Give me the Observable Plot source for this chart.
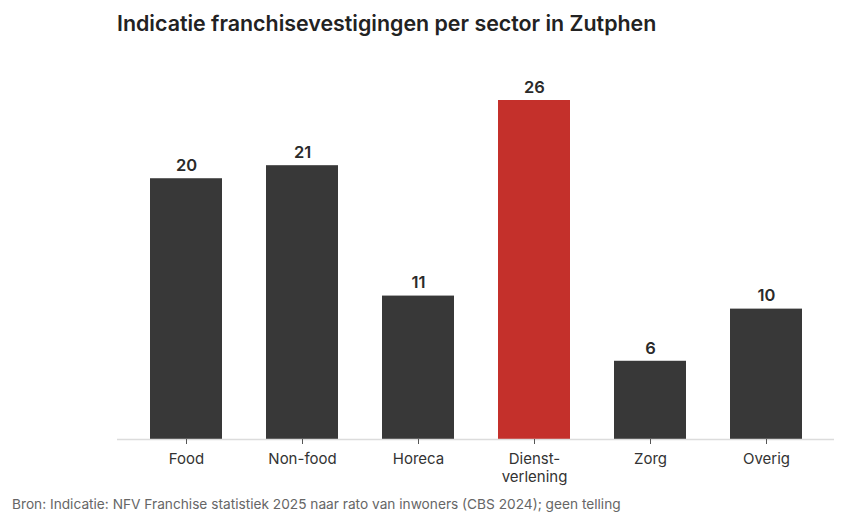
<!DOCTYPE html>
<html>
<head>
<meta charset="utf-8">
<script src="https://cdn.jsdelivr.net/npm/d3@7"></script>
<script src="https://cdn.jsdelivr.net/npm/@observablehq/plot@0.6"></script>
<style>
  body { margin: 0; background: #fff; font-family: Inter, "Noto Sans", sans-serif; }
  #title { height: 46px; line-height: 46px; padding-left: 117px; font-size: 21.4px; font-weight: 600; color: #222; }
  #caption { padding: 10px 0 0 12px; font-size: 13.7px; color: #666; }
</style>
</head>
<body>
<div id="title">Indicatie franchisevestigingen per sector in Zutphen</div>
<div id="chart"></div>
<div id="caption">Bron: Indicatie: NFV Franchise statistiek 2025 naar rato van inwoners (CBS 2024); geen telling</div>
<script>
// Sectoren en geschatte aantallen vestigingen
const sectors = ["Food", "Non-food", "Horeca", "Dienstverlening", "Zorg", "Overig"];
const tickLabels = ["Food", "Non-food", "Horeca", "Dienst-\nverlening", "Zorg", "Overig"];
const counts = [20, 21, 11, 26, 6, 10];
const highlight = "Dienstverlening";

const data = sectors.map((s, i) => ({sector: s, count: counts[i]}));
const labelOf = new Map(sectors.map((s, i) => [s, tickLabels[i]]));

const chart = Plot.plot({
  width: 844,
  height: 440,
  marginLeft: 117,
  marginRight: 10,
  marginTop: 54,
  marginBottom: 47,
  style: {fontFamily: "Inter, 'Noto Sans', sans-serif", fontSize: "15px", color: "#333"},
  x: {domain: sectors, paddingInner: 0.38, paddingOuter: 0.28, label: null},
  y: {domain: [0, 26], axis: null},
  marks: [
    Plot.barY(data, {x: "sector", y: "count", fill: d => d.sector === highlight ? "#c4302b" : "#383838"}),
    Plot.ruleY([0], {stroke: "#dcdcdc", strokeWidth: 1.5}),
    Plot.axisX({tickSize: 5, tickPadding: 7, stroke: "#555", fill: "#333", fontSize: 15, lineHeight: 1.2, tickFormat: d => labelOf.get(d)}),
    Plot.text(data, {x: "sector", y: "count", text: d => String(d.count), dy: -13, fontSize: 16.5, fontWeight: 600, fill: "#2a2a2a"})
  ]
});
document.getElementById("chart").appendChild(chart);
</script>
</body>
</html>
